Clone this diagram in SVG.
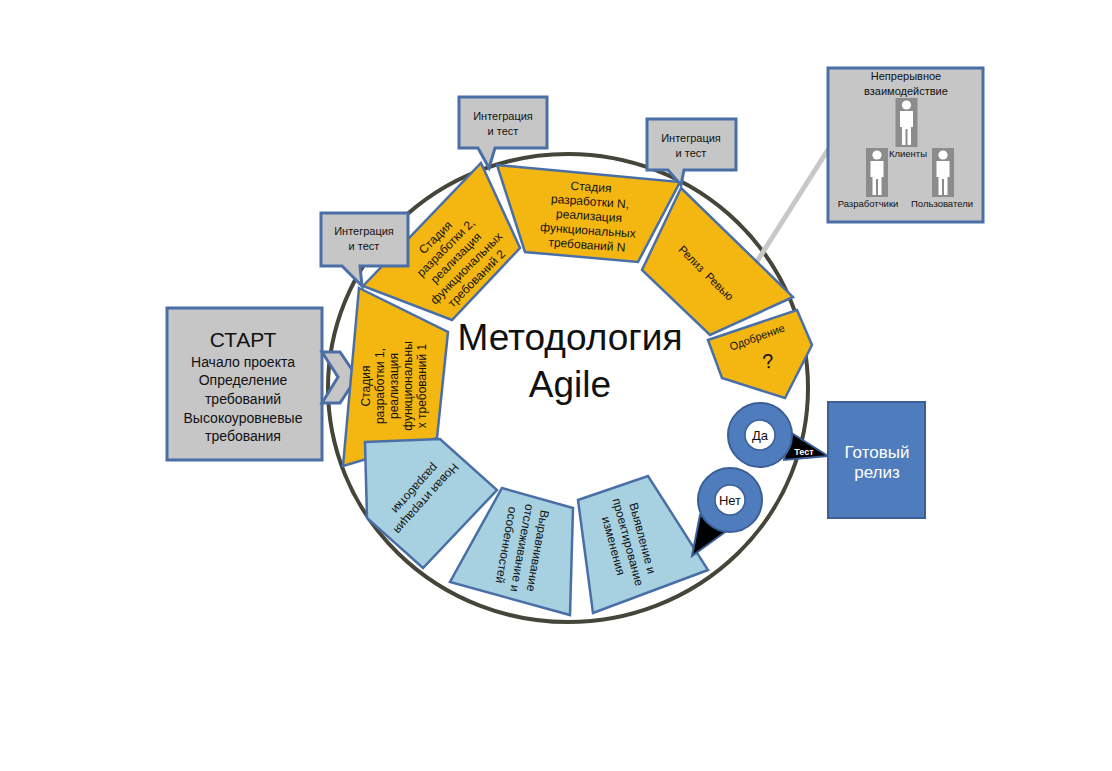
<svg xmlns="http://www.w3.org/2000/svg" xmlns:xlink="http://www.w3.org/1999/xlink" width="1112" height="771" viewBox="0 0 1112 771">
<style>
.t{font-family:"Liberation Sans","DejaVu Sans",sans-serif;fill:#111;text-anchor:middle}
.yel{fill:#f4b711;stroke:#4a6fa6;stroke-width:2.5;stroke-linejoin:miter}
.lb{fill:#a7d0e0;stroke:#4a6fa6;stroke-width:2.5}
.gr{fill:#c6c6c6;stroke:#4a6fa6;stroke-width:3}
.s12{font-size:12px}
.s11{font-size:11px}
.ring{fill:#4f7cbc;stroke:#3b5f96;stroke-width:2}
.inner{fill:#fff;stroke:#3b5f96;stroke-width:1.5}
</style>
<defs>
<symbol id="person" viewBox="0 0 22 49">
<rect x="0" y="0" width="22" height="49" fill="#8c8c8c"/>
<circle cx="11" cy="7" r="4.6" fill="#fff"/>
<path d="M4.5,13 H17.5 V29 H15.5 V47 H12 V31 H10 V47 H6.5 V29 H4.5 Z" fill="#fff"/>
</symbol>
</defs>
<rect width="1112" height="771" fill="#fff"/>

<ellipse cx="568" cy="388" rx="240" ry="234" fill="none" stroke="#45453a" stroke-width="4"/>

<g id="connectors">
<line x1="831" y1="145" x2="756" y2="263" stroke="#c8c8c8" stroke-width="5"/>
</g>

<g id="start">
<rect class="gr" x="167" y="308" width="155" height="152"/>
<path class="gr" d="M322,352 H340 L357,377 L340,403 H322 L338,377 Z"/>
<text class="t" x="243" y="347" font-size="21">СТАРТ</text>
<text class="t" x="243" y="367" font-size="14">Начало проекта</text>
<text class="t" x="243" y="385" font-size="14">Определение</text>
<text class="t" x="243" y="404" font-size="14">требований</text>
<text class="t" x="243" y="423" font-size="14">Высокоуровневые</text>
<text class="t" x="243" y="441" font-size="14">требования</text>
</g>

<g id="stage1">
<path class="yel" d="M359,288 L448,332 L437,438 L343,466 Z"/>
<g transform="translate(394,386) rotate(-90)">
<text class="t s12" x="0" y="-24">Стадия</text>
<text class="t s12" x="0" y="-10">разработки 1,</text>
<text class="t s12" x="0" y="4">реализация</text>
<text class="t s12" x="0" y="18">функциональны</text>
<text class="t s12" x="0" y="32">х требований 1</text>
</g>
</g>

<g id="stage2">
<path class="yel" d="M363,286 L481,163 L520,248 L452,320 Z"/>
<g transform="translate(456,258) rotate(-45)">
<text class="t s12" x="0" y="-25">Стадия</text>
<text class="t s12" x="0" y="-10.5">разработки 2,</text>
<text class="t s12" x="0" y="4">реализация</text>
<text class="t s12" x="0" y="18.5">функциональных</text>
<text class="t s12" x="0" y="33">требований 2</text>
</g>
</g>

<g id="stageN">
<path class="yel" d="M497,165 L680,182 L638,262 L525,252 Z"/>
<g transform="translate(589,216) rotate(4)">
<text class="t s12" x="0" y="-25">Стадия</text>
<text class="t s12" x="0" y="-10.5">разработки N,</text>
<text class="t s12" x="0" y="4">реализация</text>
<text class="t s12" x="0" y="18.5">функциональных</text>
<text class="t s12" x="0" y="33">требований N</text>
</g>
</g>

<g id="review">
<path class="yel" d="M681,188 L793,297 L710,335 L642,270 Z"/>
<text class="t" font-size="11.5" transform="translate(706,273) rotate(45)" x="0" y="4" xml:space="preserve">Релиз  Ревью</text>
</g>

<g id="approval">
<path class="yel" d="M708,340 L797,310 L812,345 L785,398 L722,378 Z"/>
<text class="t s11" transform="translate(757,337) rotate(-20)" x="0" y="4">Одобрение</text>
<text class="t" transform="translate(768,361) rotate(-8)" x="0" y="7" font-size="20">?</text>
</g>

<g id="callout1">
<path class="gr" d="M321,213 H408 V266 H360 L362,286 L342,266 H321 Z"/>
<text class="t s11" x="364" y="235">Интеграция</text>
<text class="t s11" x="364" y="250">и тест</text>
</g>
<g id="callout2">
<path class="gr" d="M459,97 H547 V148 H495 L489,168 L478,148 H459 Z"/>
<text class="t s11" x="503" y="120">Интеграция</text>
<text class="t s11" x="503" y="135">и тест</text>
</g>
<g id="callout3">
<path class="gr" d="M647,119 H736 V170 H684 L681,185 L668,170 H647 Z"/>
<text class="t s11" x="691" y="142">Интеграция</text>
<text class="t s11" x="691" y="157">и тест</text>
</g>

<g id="newiter">
<path class="lb" d="M365,442 L440,439 L497,490 L423,568 L367,518 Z"/>
<g transform="translate(421,494) rotate(132)">
<text class="t s12" x="0" y="-3">Новая итерация</text>
<text class="t s12" x="0" y="12">разработки</text>
</g>
</g>

<g id="align">
<path class="lb" d="M502,488 L573,508 L570,615 L450,582 Z"/>
<g transform="translate(522,548) rotate(100)">
<text class="t s12" x="0" y="-12">Выравнивание</text>
<text class="t s12" x="0" y="4">отслеживание и</text>
<text class="t s12" x="0" y="20">особенностей</text>
</g>
</g>

<g id="changes">
<path class="lb" d="M578,500 L648,476 L708,570 L593,613 Z"/>
<g transform="translate(628,542) rotate(75)">
<text class="t s12" x="0" y="-11">Выявление и</text>
<text class="t s12" x="0" y="4">проектирование</text>
<text class="t s12" x="0" y="19">изменения</text>
</g>
</g>

<g id="yes">
<path d="M790,432 L828,456 L784,460 Z" fill="#000" stroke="#3b5f96" stroke-width="2"/>
<circle class="ring" cx="760" cy="435" r="32"/>
<circle class="inner" cx="760" cy="435" r="15"/>
<text class="t" x="760" y="440" font-size="13">Да</text>
<text class="t" x="804" y="455" font-size="9" font-weight="bold" style="fill:#fff">Тест</text>
</g>

<g id="no">
<path d="M700,515 L728,530 L692,556 Z" fill="#000" stroke="#3b5f96" stroke-width="2"/>
<circle class="ring" cx="730" cy="500" r="32"/>
<circle class="inner" cx="730" cy="500" r="15"/>
<text class="t" x="730" y="505" font-size="13">Нет</text>
</g>

<g id="release">
<rect x="828" y="402" width="97" height="116" fill="#4f7cbc" stroke="#3b5f96" stroke-width="2"/>
<text class="t" x="877" y="458" font-size="17" style="fill:#fff">Готовый</text>
<text class="t" x="877" y="478" font-size="17" style="fill:#fff">релиз</text>
</g>

<g id="interaction">
<rect x="828" y="68" width="155" height="154" fill="#c6c6c6" stroke="#4a6fa6" stroke-width="3"/>
<text class="t s11" x="906" y="80">Непрерывное</text>
<text class="t s11" x="906" y="95">взаимодействие</text>
<use xlink:href="#person" href="#person" x="895" y="98" width="23" height="49"/>
<use xlink:href="#person" href="#person" x="866" y="148" width="22" height="49"/>
<use xlink:href="#person" href="#person" x="932" y="148" width="22" height="49"/>
<text class="t" x="908" y="157" font-size="9.5">Клиенты</text>
<text class="t" x="868" y="207" font-size="9.5">Разработчики</text>
<text class="t" x="942" y="207" font-size="9.5">Пользователи</text>
</g>

<g id="title">
<text class="t" x="570" y="350" font-size="37">Методология</text>
<text class="t" x="570" y="397" font-size="37">Agile</text>
</g>
</svg>
